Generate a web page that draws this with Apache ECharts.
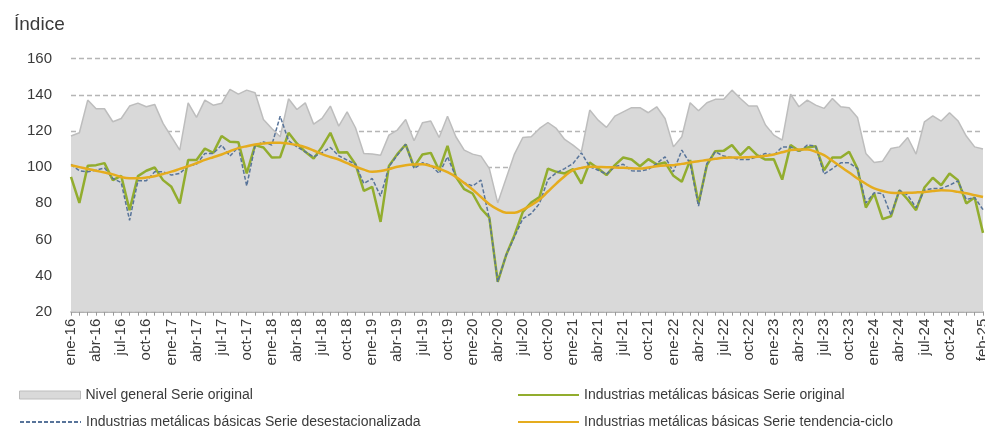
<!DOCTYPE html>
<html>
<head>
<meta charset="utf-8">
<script src="https://cdn.jsdelivr.net/npm/echarts@6/dist/echarts.min.js"></script>
<style>
html,body{margin:0;padding:0;background:#fff;overflow:hidden;}
#chart{width:985px;height:429px;}
</style>
</head>
<body>
<div id="chart"></div>
<script>
const monthNames = ['ene','feb','mar','abr','may','jun','jul','ago','sep','oct','nov','dic'];
const startYear = 16, monthCount = 110;
const categories = [];
for (let i = 0; i < monthCount; i++) {
  categories.push(monthNames[i % 12] + '-' + (startYear + Math.floor(i / 12)));
}
const yTicks = [20, 40, 60, 80, 100, 120, 140, 160];

const nivelGeneral = [
117.2,119,137.1,132.3,132.3,125.1,126.9,133.8,135.4,133.4,134.7,124.2,
116.8,109.4,135.6,127.5,137.1,134.3,135.3,143,140.4,142.6,141.2,126.4,
121.4,116.8,137.8,131.9,135.6,123.8,127,133.8,122.7,130.6,121.8,107.6,
107.2,106.6,117.7,120.5,126.4,114.6,124.5,125.5,116.4,128.2,116.8,109.4,
107.2,106.1,99.2,80.2,93.7,107.2,116.4,116.8,121.4,124.7,121.4,115.3,
112.2,108.5,131.6,126,122,128.2,130.6,132.9,132.9,130.1,133.4,126.9,
111.2,116.8,135.6,131.2,135.6,137.5,137.5,142.6,138,133.8,133.8,123.3,
117.7,114.9,140.4,133.4,137.1,134.3,132.5,138,133.4,132.9,127.5,107.6,
102.6,103.3,110.3,111.2,116.4,107.2,125.1,128.4,125.5,130.1,125.7,117.2,
111.2,110
];
const metalOriginal = [
94.6,80.2,100.7,101.1,102.2,92.8,95.2,76.2,95,98,99.8,92.8,
89.1,79.9,103.9,103.9,110.3,107.9,117.2,114,113.8,96.5,112.2,110.9,
105.3,105.5,119,113.1,108.5,104.8,111.2,119,108.1,108.3,101.6,86.9,
89.1,69.7,100.7,107.2,112.5,100.2,107,107.9,98.3,111.8,94.6,87.8,
85.4,77.1,72.1,36.5,51.2,62.3,75.2,80.4,83.5,99.2,97.4,96.5,
98.9,90.9,102.6,99.2,95.6,101.1,105.3,104.2,100.5,104.4,101.5,102.6,
95.2,91.9,103.9,79.9,101.1,108.8,109,112.2,106.6,111.2,106.6,104.2,
104.4,93.1,112.2,109,110.9,111.6,98.3,105.3,105.3,108.5,99.2,77.6,
85.4,71.2,72.8,87.2,82.1,76.2,88.7,94.1,90,96.5,92.8,79.9,
83.2,63.6
];
const metalDesest = [
101.5,98,97.4,98.3,99.6,93.7,91.5,70.6,92.4,92.4,97.4,97.4,
95.6,96.5,100.7,101.6,107.6,107.6,112.2,106.1,111.2,89.6,111.8,114,
112.2,128.2,114.6,111.2,108.5,105.7,108,110.9,106.3,103.9,101.6,90.9,
93.7,83.9,100.2,106.6,112.7,99.2,102.4,101.1,96.5,105.7,94.6,91.3,
89.6,92.8,71.5,36.5,51.2,61.4,71.5,74.3,79.9,93.1,96.8,99.2,
102,107.9,100.2,98.3,96.1,100.2,101.6,98,97.8,98.7,102,105.7,
97.4,109.4,102,78.4,102,108.5,106.1,105.3,104.2,104.2,105.7,107.6,
106.6,111.2,111.2,108.5,112.2,111.6,96.1,99.2,102.4,102.4,99.2,80.2,
85.8,85.4,73.4,87.2,84.5,77.6,87.2,88.2,88.2,90,92.4,82.1,
83.2,76.5
];
const metalTendencia = [
101,100,99,98,97,96,94.5,93.8,93.8,94.2,95,96.2,
97.5,99,100.5,102.2,104,105.5,107,108.8,110.5,111.6,112.5,113.1,
113.5,113.5,113,112.2,111,109.2,107.2,105.6,104.2,102.2,100.2,98.6,
97.4,97.8,98.9,100.2,101.1,101.5,101.6,100.6,99.2,97.2,94.6,91.2,
87.6,83.5,79.5,76.6,74.8,74.7,76.5,79,82.1,86.5,90.9,95,
98.3,99.6,100.2,100.1,100,99.8,99.6,99.4,99.2,99.8,100.5,100.9,
101.1,101.8,102.6,103.3,103.9,104.6,105.2,105.3,105.3,105.5,105.7,106.3,
107,108.2,109.4,109.8,109.8,108.5,106.6,103.5,100.2,97,93.7,90.8,
88.2,86.8,85.8,85.7,85.8,86,86.3,86.8,87.2,87,86.3,85.5,
84.5,83.5
];
const seriesNames = [
  'Nivel general Serie original',
  'Industrias metálicas básicas Serie original',
  'Industrias metálicas básicas Serie desestacionalizada',
  'Industrias metálicas básicas Serie tendencia-ciclo'
];

const FONT = 'Liberation Sans';
const TXT = '#3a3a3a';
const chart = echarts.init(document.getElementById('chart'), null, {renderer: 'canvas'});
const legendText = {fontFamily: FONT, fontSize: 14, color: TXT};
const lastIdx = categories.length - 1;
const lineLegend = {padding: 0, itemWidth: 61, itemHeight: 14, itemGap: 8, textStyle: legendText, itemStyle: {opacity: 0}};

chart.setOption({
  animation: false,
  backgroundColor: '#ffffff',
  title: {
    text: 'Índice', left: 9, top: 10,
    textStyle: {fontFamily: FONT, fontSize: 19, fontWeight: 'normal', color: TXT}
  },
  grid: {left: 71, right: 2, top: 58.7, bottom: 117.3, containLabel: false, outerBoundsMode: 'none'},
  legend: [
    {data: [{name: seriesNames[0], icon: 'rect'}], left: 19, top: 388, padding: 0, itemWidth: 61, itemHeight: 8, itemGap: 8,
     itemStyle: {borderColor: '#bdbdbd', borderWidth: 1}, textStyle: legendText},
    Object.assign({data: [seriesNames[1]], left: 517, top: 388}, lineLegend),
    Object.assign({data: [seriesNames[2]], left: 19, top: 415}, lineLegend),
    Object.assign({data: [seriesNames[3]], left: 517, top: 415}, lineLegend)
  ],
  xAxis: {
    type: 'category',
    data: categories,
    boundaryGap: false,
    axisLine: {show: true, lineStyle: {color: '#9a9a9a', width: 1.5}},
    axisTick: {show: true, interval: 0, length: 4, lineStyle: {color: '#9a9a9a'}},
    axisLabel: {
      rotate: 90, margin: 7, fontFamily: FONT, fontSize: 15, color: TXT, hideOverlap: false,
      interval: function (idx) { return (idx % 3 === 0 && idx < 108) || idx === lastIdx; }
    },
    splitLine: {show: false}
  },
  yAxis: {
    type: 'value',
    min: yTicks[0], max: yTicks[yTicks.length - 1], interval: yTicks[1] - yTicks[0],
    axisLine: {show: false},
    axisTick: {show: false},
    axisLabel: {margin: 19, fontFamily: FONT, fontSize: 15, color: TXT},
    splitLine: {show: true, lineStyle: {color: '#b5b5b5', type: [5, 3], width: 1.3}}
  },
  series: [
    {
      name: seriesNames[0], type: 'line', data: nivelGeneral, symbol: 'none',
      lineStyle: {color: '#bdbdbd', width: 1.5},
      itemStyle: {color: '#d9d9d9', borderColor: '#bdbdbd'},
      areaStyle: {color: '#d9d9d9', opacity: 1}, z: 1
    },
    {
      name: seriesNames[1], type: 'line', data: metalOriginal, symbol: 'none',
      lineStyle: {color: '#92ad2e', width: 2.5}, itemStyle: {color: '#92ad2e'}, z: 3
    },
    {
      name: seriesNames[2], type: 'line', data: metalDesest, symbol: 'none',
      lineStyle: {color: '#58749a', width: 1.5, type: [4, 2]}, itemStyle: {color: '#58749a'}, z: 4
    },
    {
      name: seriesNames[3], type: 'line', data: metalTendencia, symbol: 'none', smooth: 0.4,
      lineStyle: {color: '#e5ac1e', width: 2.5}, itemStyle: {color: '#e5ac1e'}, z: 5
    }
  ]
});
</script>
</body>
</html>
